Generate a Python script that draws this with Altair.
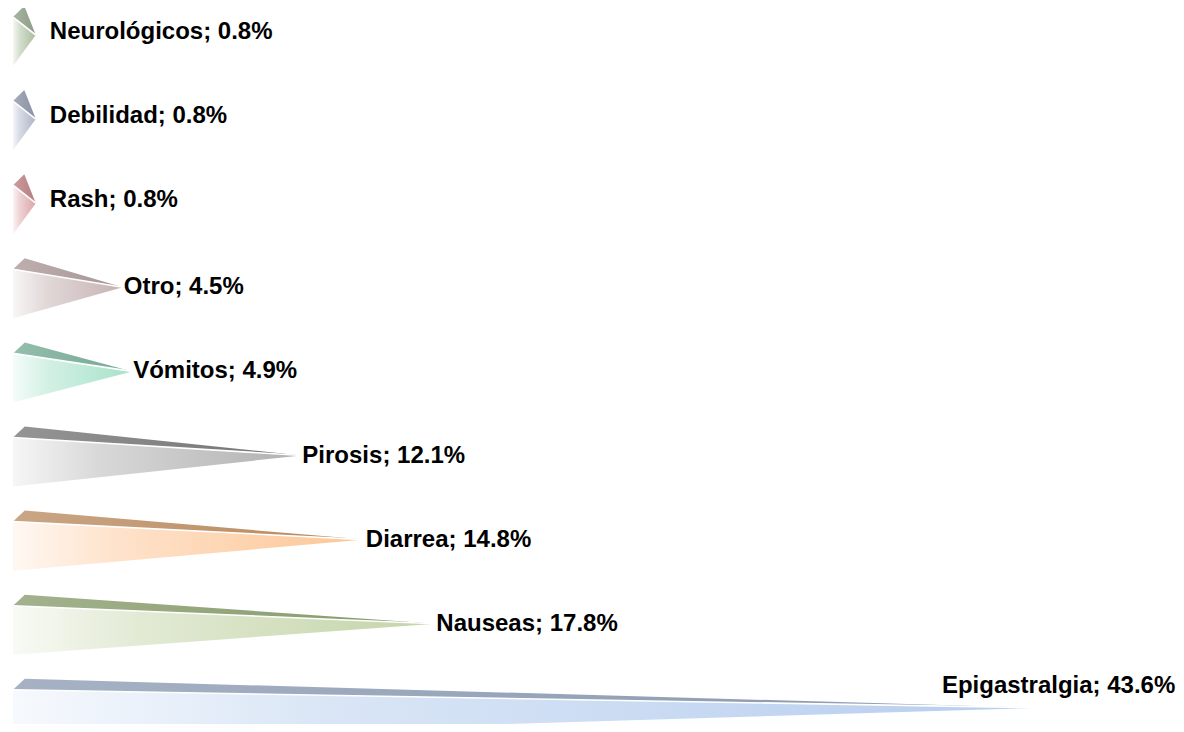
import altair as alt
import pandas as pd

# ---- data ----
categories = ["Neurológicos", "Debilidad", "Rash", "Otro", "Vómitos",
              "Pirosis", "Diarrea", "Nauseas", "Epigastralgia"]
values = [0.8, 0.8, 0.8, 4.5, 4.9, 12.1, 14.8, 17.8, 43.6]

# ---- styles ----
front_colors = ["#a9bc9c", "#aeb4c8", "#dca4a8", "#c6b2b2", "#a6e2ca",
                "#b0b0b0", "#fcc696", "#c4d4a8", "#b6cdee"]
top_colors = ["#8c9c84", "#8890a4", "#b87c80", "#a89494", "#72a892",
              "#727272", "#b8885c", "#849868", "#8898b0"]


def mix(c1, c2, t):
    a = [int(c1[i:i + 2], 16) for i in (1, 3, 5)]
    b = [int(c2[i:i + 2], 16) for i in (1, 3, 5)]
    return "#" + "".join(f"{round(a[k] + (b[k] - a[k]) * t):02x}" for k in range(3))


W, H = 1168, 716
PX_PER_PCT = 23.5
X0 = -9 / PX_PER_PCT           # value 0 sits at page x ~17
x_dom = [X0, X0 + W / PX_PER_PCT]
DEPTH = -4 / PX_PER_PCT        # 3D base sits a little left of the zero line
ROW_PX = 84.1
Y0 = -27 / ROW_PX
y_dom = [Y0, Y0 + H / ROW_PX]

BACK, FRONT, BOTTOM = -0.345, -0.214, 0.369

xs = alt.Scale(domain=x_dom, nice=False, zero=False)
ys = alt.Scale(domain=y_dom, nice=False, zero=False, reverse=True)

layers = []
for i, (cat, v) in enumerate(zip(categories, values)):
    fc, tc = front_colors[i], top_colors[i]
    s = DEPTH + min(0.5, 0.6 * v)
    span = v - DEPTH

    front = pd.DataFrame({"x": [DEPTH, v], "y": [i + FRONT, i], "y2": [i + BOTTOM, i]})
    front_grad = alt.Gradient(
        gradient="linear",
        stops=[alt.GradientStop(color=mix("#ffffff", fc, 0.12), offset=0),
               alt.GradientStop(color=mix("#ffffff", fc, 0.5), offset=0.3),
               alt.GradientStop(color=fc, offset=1)],
        x1=0, x2=1, y1=0, y2=0)
    layers.append(
        alt.Chart(front).mark_area(orient="vertical", fill=front_grad, clip=True)
        .encode(x=alt.X("x:Q", scale=xs, axis=None),
                y=alt.Y("y:Q", scale=ys, axis=None),
                y2="y2:Q"))

    top = pd.DataFrame({"x": [DEPTH, s, v],
                        "y": [i + FRONT, i + BACK, i],
                        "y2": [i + FRONT, i + FRONT * (1 - (s - DEPTH) / span), i]})
    top_grad = alt.Gradient(
        gradient="linear",
        stops=[alt.GradientStop(color=mix("#ffffff", tc, 0.75), offset=0),
               alt.GradientStop(color=tc, offset=1)],
        x1=0, x2=1, y1=0, y2=0)
    layers.append(
        alt.Chart(top).mark_area(orient="vertical", fill=top_grad, clip=True)
        .encode(x=alt.X("x:Q", scale=xs, axis=None),
                y=alt.Y("y:Q", scale=ys, axis=None),
                y2="y2:Q"))

    edge = pd.DataFrame({"x": [DEPTH, v], "y": [i + FRONT, i]})
    layers.append(
        alt.Chart(edge).mark_line(color="white", strokeWidth=1.6, clip=True)
        .encode(x=alt.X("x:Q", scale=xs, axis=None),
                y=alt.Y("y:Q", scale=ys, axis=None)))

    lab = pd.DataFrame({"x": [v], "y": [i], "t": [f"{cat}; {v}%"]})
    if v < 1:
        kw = dict(align="left", dx=14, dy=-3)
    elif i == len(categories) - 1:
        kw = dict(align="center", dx=17, dy=-22)
    else:
        kw = dict(align="left", dx=1, dy=0)
    layers.append(
        alt.Chart(lab).mark_text(baseline="middle", font="Liberation Sans, Arial, sans-serif",
                                 fontWeight="bold", fontSize=24, color="black", **kw)
        .encode(x=alt.X("x:Q", scale=xs, axis=None),
                y=alt.Y("y:Q", scale=ys, axis=None),
                text="t:N"))

chart = (alt.layer(*layers)
         .properties(width=W, height=H, padding=0,
                     autosize=alt.AutoSizeParams(type="none"),
                     background="white")
         .configure_view(stroke=None))

chart.save("out.html", embed_options={"renderer": "svg", "actions": False})
